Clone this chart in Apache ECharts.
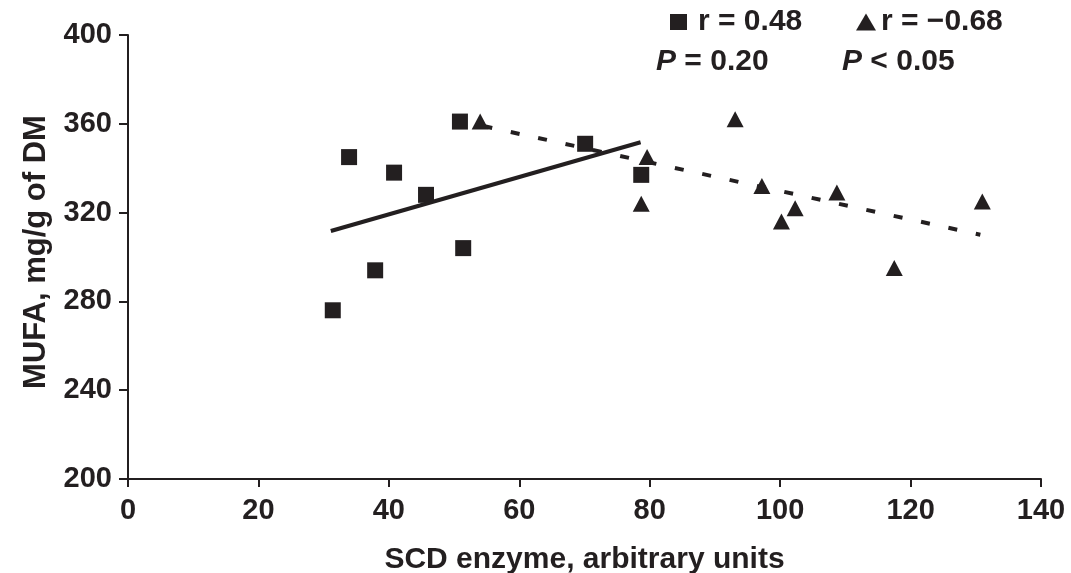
<!DOCTYPE html>
<html>
<head>
<meta charset="utf-8">
<script src="https://cdn.jsdelivr.net/npm/echarts@6/dist/echarts.min.js"></script>
<style>
  html, body { margin: 0; padding: 0; background: #fff; }
  #main { width: 1071px; height: 573px; }
</style>
</head>
<body>
<div id="main"></div>
<script>
// 数据：方块组 (SCD, MUFA)
const squareX = [31.4, 33.9, 37.9, 40.8, 45.7, 50.9, 51.4, 70.1, 78.7];
const squareY = [276, 345, 294, 338, 328, 361, 304, 351, 337];
// 数据：三角组
const triX = [54.0, 78.7, 79.6, 93.1, 97.2, 100.2, 102.3, 108.7, 117.5, 131.0];
const triY = [361, 324, 345, 362, 332, 316, 322, 329, 295, 325];
// 回归线端点
const solidX = [31.1, 78.6];
const solidY = [311.7, 351.7];
const dashX = [54.5, 130.7];
const dashY = [359, 310];
// 坐标轴刻度
const xTicks = [0, 20, 40, 60, 80, 100, 120, 140];
const yTicks = [200, 240, 280, 320, 360, 400];

const ink = '#231f20';
const font = 'Liberation Sans, Arial, sans-serif';

function pairs(xs, ys) {
  return xs.map((x, i) => [x, ys[i]]);
}

// 图例文字样式
const legendText = { color: ink, fontSize: 30, fontWeight: 'bold', fontFamily: font };

function pText(left, text) {
  return {
    type: 'text', left: left, top: 47,
    style: {
      text: text,
      rich: { i: { fontStyle: 'italic', fontSize: 30, fontWeight: 'bold', fontFamily: font, fill: ink } },
      fontSize: 30, fontWeight: 'bold', fontFamily: font, fill: ink
    }
  };
}

const chartDom = document.getElementById('main');
const myChart = echarts.init(chartDom);

const option = {
  animation: false,
  grid: { left: 128, right: 30, top: 35, bottom: 94, outerBoundsMode: 'none' },
  legend: [
    {
      data: [{ name: 'r = 0.48', icon: 'rect' }],
      left: 670, top: 7, padding: 0,
      itemWidth: 17, itemHeight: 16,
      textStyle: Object.assign({ padding: [0, 0, 0, 6] }, legendText)
    },
    {
      data: [{ name: 'r = \u22120.68', icon: 'triangle' }],
      left: 856, top: 7, padding: 0,
      itemWidth: 20, itemHeight: 17,
      textStyle: legendText
    }
  ],
  graphic: [
    pText(656, '{i|P} = 0.20'),
    pText(842, '{i|P} < 0.05')
  ],
  xAxis: {
    type: 'value',
    min: xTicks[0],
    max: xTicks[xTicks.length - 1],
    interval: 20,
    name: 'SCD enzyme, arbitrary units',
    nameLocation: 'middle',
    nameGap: 66,
    nameTextStyle: { color: ink, fontSize: 30, fontWeight: 'bold', fontFamily: font },
    splitLine: { show: false },
    axisLine: { lineStyle: { color: ink, width: 2 } },
    axisTick: { length: 8, lineStyle: { color: ink, width: 2 } },
    axisLabel: { color: ink, fontSize: 29, fontWeight: 'bold', fontFamily: font, margin: 17 }
  },
  yAxis: {
    type: 'value',
    min: yTicks[0],
    max: yTicks[yTicks.length - 1],
    interval: 40,
    name: 'MUFA, mg/g of DM',
    nameLocation: 'middle',
    nameGap: 76,
    nameTextStyle: { color: ink, fontSize: 31, fontWeight: 'bold', fontFamily: font, padding: [0, 0, 0, 10] },
    splitLine: { show: false },
    axisLine: { show: true, lineStyle: { color: ink, width: 2 } },
    axisTick: { show: true, length: 9, lineStyle: { color: ink, width: 2 } },
    axisLabel: { color: ink, fontSize: 29, fontWeight: 'bold', fontFamily: font, margin: 16 }
  },
  series: [
    {
      name: 'r = 0.48',
      type: 'scatter',
      symbol: 'rect',
      symbolSize: 16,
      itemStyle: { color: ink, opacity: 1 },
      data: pairs(squareX, squareY),
      z: 3
    },
    {
      name: 'r = \u22120.68',
      type: 'scatter',
      symbol: 'triangle',
      symbolSize: [17, 16],
      itemStyle: { color: ink, opacity: 1 },
      data: pairs(triX, triY),
      z: 3
    },
    {
      name: 'fit1',
      type: 'line',
      symbol: 'none',
      lineStyle: { color: ink, width: 4 },
      data: pairs(solidX, solidY),
      z: 2
    },
    {
      name: 'fit2',
      type: 'line',
      symbol: 'none',
      lineStyle: { color: ink, width: 4, type: [9, 19] },
      data: pairs(dashX, dashY),
      z: 2
    }
  ]
};

option && myChart.setOption(option);
</script>
</body>
</html>
